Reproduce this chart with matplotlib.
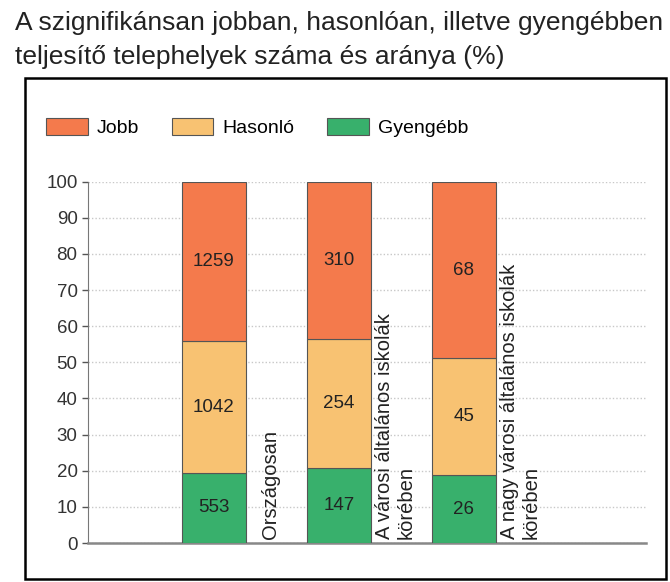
import numpy as np
import matplotlib
matplotlib.use("Agg")
import matplotlib.pyplot as plt
from matplotlib.patches import Rectangle

plt.rcParams['font.family'] = ['Liberation Sans', 'DejaVu Sans']

# Data: number of sites per category
groups = ["Országosan",
          "A városi általános iskolák\nkörében",
          "A nagy városi általános iskolák\nkörében"]
gyengebb = [553, 147, 26]
hasonlo = [1042, 254, 45]
jobb = [1259, 310, 68]

series = [("Jobb", jobb, "#F47A4C"),
          ("Hasonló", hasonlo, "#F8C272"),
          ("Gyengébb", gyengebb, "#38B06C")]

totals = np.array(gyengebb) + np.array(hasonlo) + np.array(jobb)
x = np.arange(len(groups))

fig = plt.figure(figsize=(6.7, 5.82), dpi=100)
ax = fig.add_axes([88 / 670, 1 - 543 / 582, 558 / 670, 361.3 / 582])

# stack from bottom: Gyengébb, Hasonló, Jobb
bottom = np.zeros(len(groups))
handles = {}
for name, vals, color in [series[2], series[1], series[0]]:
    pct = np.array(vals) / totals * 100
    bars = ax.bar(x, pct, width=0.51, bottom=bottom, color=color,
                  edgecolor="#555555", linewidth=0.8, zorder=3, label=name)
    handles[name] = bars
    for xi, b, p, v in zip(x, bottom, pct, vals):
        ax.text(xi, b + p / 2, str(v), ha="center", va="center",
                fontsize=13.5, color="#222222", zorder=4)
    bottom += pct

# rotated group labels next to each bar
for xi, g in zip(x, groups):
    ax.text(xi + 0.45, 1.2, g, rotation=90, ha="center", va="bottom",
            multialignment="left", fontsize=14.5, color="#222222")

ax.set_xlim(-1.008, 3.456)
ax.set_ylim(0, 100)
ax.set_yticks(np.arange(0, 101, 10))
ax.set_xticks([])
ax.tick_params(axis="y", labelsize=13.5, labelcolor="#333333",
               color="#555555", length=4, width=1)
ax.yaxis.grid(True, linestyle=(0, (1, 1.5)), color="#c8c8c8", linewidth=1)
ax.set_axisbelow(True)
for s in ["top", "right"]:
    ax.spines[s].set_visible(False)
ax.spines["left"].set_color("#777777")
ax.spines["bottom"].set_color("#888888")
ax.spines["bottom"].set_linewidth(1.8)

# legend
leg_handles = [handles["Jobb"], handles["Hasonló"], handles["Gyengébb"]]
fig.legend(leg_handles, ["Jobb", "Hasonló", "Gyengébb"], ncol=3,
           loc="center left", bbox_to_anchor=(46 / 670, 1 - 127.5 / 582),
           frameon=False, fontsize=14, handlelength=2.15, handleheight=0.97,
           handletextpad=0.48, columnspacing=1.65, borderpad=0,
           borderaxespad=0)

# frame around the chart
fig.patches.append(Rectangle((25 / 670, 1 - 579 / 582), 641 / 670, 501 / 582,
                             transform=fig.transFigure, fill=False,
                             edgecolor="black", linewidth=1.8))

# title
fig.text(15 / 670, 1 - 30 / 582,
         "A szignifikánsan jobban, hasonlóan, illetve gyengébben",
         fontsize=19, color="#222222", va="baseline")
fig.text(15 / 670, 1 - 64 / 582,
         "teljesítő telephelyek száma és aránya (%)",
         fontsize=19, color="#222222", va="baseline")

fig.savefig("out.png", dpi=100)
